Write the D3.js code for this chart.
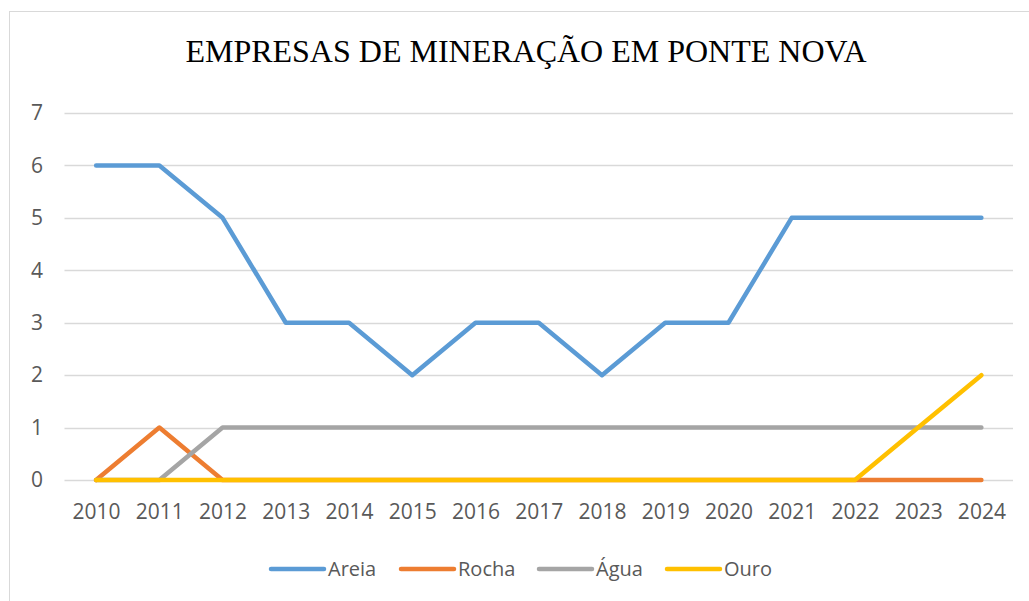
<!DOCTYPE html>
<html>
<head>
<meta charset="utf-8">
<script src="https://cdn.jsdelivr.net/npm/d3@7"></script>
<style>
  body { margin: 0; background: #fff; }
  svg text { font-family: "Open Sans", sans-serif; }
</style>
</head>
<body>
<script>
// Data
const years = ['2010', '2011', '2012', '2013', '2014', '2015', '2016', '2017', '2018', '2019', '2020', '2021', '2022', '2023', '2024'];
const areia = [6, 6, 5, 3, 3, 2, 3, 3, 2, 3, 3, 5, 5, 5, 5];
const rocha = [0, 1, 0, 0, 0, 0, 0, 0, 0, 0, 0, 0, 0, 0, 0];
const agua  = [0, 0, 1, 1, 1, 1, 1, 1, 1, 1, 1, 1, 1, 1, 1];
const ouro  = [0, 0, 0, 0, 0, 0, 0, 0, 0, 0, 0, 0, 0, 1, 2];
const yTicks = [0, 1, 2, 3, 4, 5, 6, 7];

const series = [
  { name: 'Areia', values: areia, color: '#5B9BD5' },
  { name: 'Rocha', values: rocha, color: '#ED7D31' },
  { name: 'Água', values: agua, color: '#A5A5A5' },
  { name: 'Ouro', values: ouro, color: '#FFC000' }
];

const W = 1029, H = 601;
const plot = { left: 64.5, right: 1013, top: 113, bottom: 480 };

const svg = d3.select('body').append('svg')
  .attr('width', W)
  .attr('height', H);

// chart border
svg.append('rect')
  .attr('x', 9.5).attr('y', 11.5)
  .attr('width', W).attr('height', H)
  .attr('fill', 'none')
  .attr('stroke', '#d9d9d9')
  .attr('stroke-width', 1);

// title
svg.append('text')
  .attr('x', 526)
  .attr('y', 62)
  .attr('text-anchor', 'middle')
  .style('font-family', '"Liberation Serif", "Times New Roman", serif')
  .style('font-size', '32px')
  .style('fill', '#000')
  .text('EMPRESAS DE MINERAÇÃO EM PONTE NOVA');

// scales
const x = d3.scalePoint().domain(years).range([plot.left, plot.right]).padding(0.5);
const y = d3.scaleLinear().domain([0, 7]).range([plot.bottom, plot.top]);

// gridlines
svg.append('g')
  .selectAll('line')
  .data(yTicks)
  .join('line')
  .attr('x1', plot.left).attr('x2', plot.right)
  .attr('y1', d => Math.round(y(d)) + 0.5)
  .attr('y2', d => Math.round(y(d)) + 0.5)
  .attr('stroke', '#d9d9d9')
  .attr('stroke-width', 1.5);

// y axis labels
const yAxis = d3.axisLeft(y).tickValues(yTicks).tickFormat(d3.format('d')).tickSize(0).tickPadding(0);
svg.append('g')
  .attr('transform', 'translate(43,0)')
  .call(yAxis)
  .call(g => g.select('.domain').remove())
  .selectAll('text')
  .style('font-size', '21px')
  .style('fill', '#595959');

// x axis labels
const xAxis = d3.axisBottom(x).tickSize(0).tickPadding(0);
svg.append('g')
  .attr('transform', 'translate(0,' + (plot.bottom + 24) + ')')
  .call(xAxis)
  .call(g => g.select('.domain').remove())
  .selectAll('text')
  .attr('dy', '0.71em')
  .style('font-size', '21px')
  .style('fill', '#595959');

// lines
const line = d3.line()
  .x((d, i) => x(years[i]))
  .y(d => y(d));

svg.append('g')
  .selectAll('path')
  .data(series)
  .join('path')
  .attr('d', d => line(d.values))
  .attr('fill', 'none')
  .attr('stroke', d => d.color)
  .attr('stroke-width', 4.5)
  .attr('stroke-linecap', 'round')
  .attr('stroke-linejoin', 'round');

// legend
const legendX = [271, 401, 539, 667];
const legend = svg.append('g')
  .selectAll('g')
  .data(series)
  .join('g')
  .attr('transform', (d, i) => 'translate(' + legendX[i] + ',569)');

legend.append('line')
  .attr('x1', 0).attr('x2', 53)
  .attr('stroke', d => d.color)
  .attr('stroke-width', 4.5)
  .attr('stroke-linecap', 'round');

legend.append('text')
  .attr('x', 57)
  .attr('dy', '0.35em')
  .style('font-size', '20px')
  .style('fill', '#595959')
  .text(d => d.name);
</script>
</body>
</html>
